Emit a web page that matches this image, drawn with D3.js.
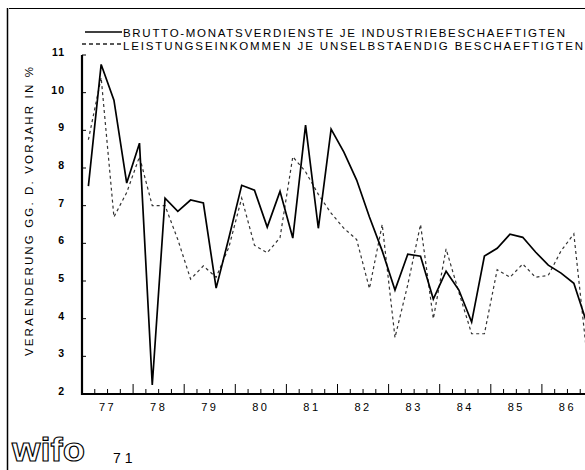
<!DOCTYPE html>
<html><head><meta charset="utf-8">
<script src="https://cdn.jsdelivr.net/npm/d3@7"></script>
<style>html,body{margin:0;padding:0;background:#fff;overflow:hidden}svg{display:block}</style>
</head><body>
<script>
// ---- data ----
const years = [1977,1978,1979,1980,1981,1982,1983,1984,1985,1986];
const yearLabels = ["77","78","79","80","81","82","83","84","85","86"];
const quarters = ["I","II","III","IV"];
const yTicks = [2,3,4,5,6,7,8,9,10,11];
const seriesNames = [
  "BRUTTO-MONATSVERDIENSTE JE INDUSTRIEBESCHAEFTIGTEN",
  "LEISTUNGSEINKOMMEN JE UNSELBSTAENDIG BESCHAEFTIGTEN"
];
const brutto = [7.52,10.75,9.8,7.6, 8.66,2.24,7.2,6.85, 7.15,7.07,4.81,6.15,
  7.54,7.41,6.43,7.38, 6.14,9.14,6.4,9.03, 8.42,7.68,6.7,5.8,
  4.76,5.71,5.66,4.52, 5.26,4.76,3.91,5.66, 5.87,6.24,6.16,5.77,
  5.42,5.21,4.94,3.9];
const leistung = [8.75,10.4,6.7,7.35, 8.3,7.0,7.0,6.1, 5.05,5.4,5.1,5.9,
  7.2,5.95,5.75,6.15, 8.3,7.9,7.3,6.8, 6.4,6.1,4.8,6.5,
  3.5,4.9,6.5,4.0, 5.85,4.7,3.6,3.6, 5.3,5.1,5.45,5.1,
  5.15,5.8,6.25,3.1];
const yTitle = "VERAENDERUNG GG. D. VORJAHR IN %";
const pageNo = "71";

// categories: each quarter of each year
const periods = [];
years.forEach(y => quarters.forEach((q, i) => periods.push({year: y, qi: i, label: y + " " + q})));

const W = 585, H = 470;
const svg = d3.select("body").append("svg").attr("width", W).attr("height", H);
const font = "'Liberation Sans', Arial, sans-serif";

const x = d3.scaleLinear().domain([1977, 1987]).range([82, 593]);
const y = d3.scaleLinear().domain([2, 11]).range([394, 55]);
const px = d => x(d.year + (d.qi + 0.5) / 4);

// scan frame
svg.append("line").attr("x1", 9).attr("x2", W).attr("y1", 8.5).attr("y2", 8.5)
  .attr("stroke", "#000").attr("stroke-width", 1.2);
svg.append("line").attr("x1", 7.5).attr("x2", 7.5).attr("y1", 8).attr("y2", H)
  .attr("stroke", "#000").attr("stroke-width", 1.5);

// y axis
svg.append("line").attr("x1", 82).attr("x2", 82).attr("y1", y(11)).attr("y2", y(2) + 1)
  .attr("stroke", "#000").attr("stroke-width", 2.2);
const yg = svg.append("g");
yTicks.forEach(t => {
  yg.append("line").attr("x1", 82).attr("x2", 86).attr("y1", y(t)).attr("y2", y(t))
    .attr("stroke", "#000").attr("stroke-width", 1);
  yg.append("text").attr("x", 65).attr("y", y(t) + 1).attr("text-anchor", "end")
    .attr("font-family", font).attr("font-size", 10.5).attr("font-weight", "bold")
    .attr("letter-spacing", 1).text(t);
});

// x axis
svg.append("line").attr("x1", 82).attr("x2", W).attr("y1", 394).attr("y2", 394)
  .attr("stroke", "#000").attr("stroke-width", 2);
const xg = svg.append("g");
years.forEach((yr, i) => {
  quarters.forEach((q, qi) => {
    const xv = x(yr + qi / 4);
    if (xv > 83 && xv < W)
      xg.append("line").attr("x1", xv).attr("x2", xv).attr("y1", 394).attr("y2", qi === 0 ? 384 : 389)
        .attr("stroke", "#000").attr("stroke-width", 1);
  });
  xg.append("text").attr("x", x(yr + 0.5)).attr("y", 411).attr("text-anchor", "middle")
    .attr("font-family", font).attr("font-size", 11).attr("letter-spacing", 2.5)
    .text(yearLabels[i]);
});

// y title
svg.append("text").attr("transform", "translate(33,356) rotate(-90)")
  .attr("font-family", font).attr("font-size", 11.5)
  .attr("textLength", 289).attr("lengthAdjust", "spacing").text(yTitle);

// lines
svg.append("clipPath").attr("id", "c").append("rect")
  .attr("x", 82).attr("y", 40).attr("width", W - 82).attr("height", 354);
const line = d3.line().x(d => px(d.p)).y(d => y(d.v));
const pl = svg.append("g").attr("clip-path", "url(#c)");
pl.append("path").datum(periods.map((p, i) => ({p, v: leistung[i]})))
  .attr("d", line).attr("fill", "none").attr("stroke", "#333")
  .attr("stroke-width", 1.2).attr("stroke-dasharray", "3,3");
pl.append("path").datum(periods.map((p, i) => ({p, v: brutto[i]})))
  .attr("d", line).attr("fill", "none").attr("stroke", "#000")
  .attr("stroke-width", 1.7).attr("stroke-linejoin", "miter");

// legend
svg.append("line").attr("x1", 85).attr("x2", 122).attr("y1", 32).attr("y2", 32)
  .attr("stroke", "#000").attr("stroke-width", 1.6);
svg.append("line").attr("x1", 82).attr("x2", 122).attr("y1", 44).attr("y2", 44)
  .attr("stroke", "#222").attr("stroke-width", 1.4).attr("stroke-dasharray", "4,3");
svg.append("text").attr("x", 123).attr("y", 36.5).attr("font-family", font).attr("font-size", 11.5)
  .attr("textLength", 442).attr("lengthAdjust", "spacing").text(seriesNames[0]);
svg.append("text").attr("x", 123).attr("y", 50).attr("font-family", font).attr("font-size", 11.5)
  .attr("textLength", 460).attr("lengthAdjust", "spacing").text(seriesNames[1]);

// logo and page number
svg.append("text").attr("x", 12).attr("y", 461).attr("font-family", font).attr("font-size", 34)
  .attr("font-weight", "bold").attr("fill", "#fff").attr("stroke", "#000").attr("stroke-width", 1.1)
  .attr("textLength", 73).attr("lengthAdjust", "spacingAndGlyphs").text("wifo");
svg.append("text").attr("x", 113).attr("y", 463).attr("font-family", font).attr("font-size", 14)
  .attr("letter-spacing", 4).text(pageNo);
</script>
</body></html>
